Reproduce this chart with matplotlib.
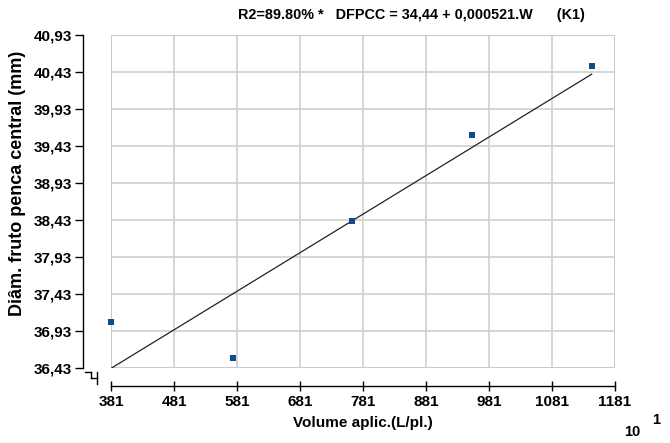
import matplotlib
matplotlib.use("Agg")
import matplotlib.pyplot as plt
import numpy as np
from matplotlib.lines import Line2D

# Data
volume = [381, 574, 764, 954, 1144]
diam = [37.05, 36.57, 38.42, 39.58, 40.51]
intercept = 34.44
slope = 0.00521
x_ticks = [381, 481, 581, 681, 781, 881, 981, 1081, 1181]
y_ticks = [36.43, 36.93, 37.43, 37.93, 38.43, 38.93, 39.43, 39.93, 40.43, 40.93]
title = "R2=89.80% *   DFPCC = 34,44 + 0,000521.W      (K1)"
xlabel = "Volume aplic.(L/pl.)"
ylabel = "Diâm. fruto penca central (mm)"

plt.rcParams['font.family'] = ['Liberation Sans', 'DejaVu Sans']

W, H = 670, 443
fig = plt.figure(figsize=(W / 100, H / 100), dpi=100)
left, right, top, bottom = 111, 615, 35, 368
ax = fig.add_axes([left / W, 1 - bottom / H, (right - left) / W, (bottom - top) / H])

ax.set_xlim(381, 1181)
ax.set_ylim(36.43, 40.93)

ax.grid(True, color='#d0d0d0', linewidth=1.2)
ax.set_axisbelow(True)

# regression line
xl = np.array([min(volume), max(volume)])
ax.plot(xl, intercept + slope * xl, color='#222222', linewidth=0.9, zorder=3)
ax.scatter(volume, diam, marker='s', s=24, color='#0f4c8c', zorder=4, linewidths=0, clip_on=False)

# Spines
for s in ['top', 'right']:
    ax.spines[s].set_visible(False)
ax.spines['left'].set_position(('outward', 20))
ax.spines['bottom'].set_position(('outward', 13))
ax.spines['left'].set_linewidth(1.0)
ax.spines['bottom'].set_linewidth(1.0)

# plot-area border
rect = plt.Rectangle((0, 0), 1, 1, transform=ax.transAxes, fill=False,
                     edgecolor='#c8c8c8', linewidth=1.2, zorder=2)
ax.add_patch(rect)

ax.set_xticks(x_ticks)
ax.set_xticklabels([str(v) for v in x_ticks], fontweight='bold', fontsize=11)
ax.set_yticks(y_ticks)
ax.set_yticklabels([f"{v:.2f}".replace('.', ',') for v in y_ticks], fontweight='bold', fontsize=11)
ax.tick_params(axis='y', direction='out', length=6, width=1, pad=2)
ax.tick_params(axis='x', direction='inout', length=7, width=1, pad=3)

ax.set_xlabel(xlabel, fontweight='bold', fontsize=11, labelpad=5)
fig.text(18 / W, 1 - 183 / H, ylabel, rotation=90, ha='center', va='center',
         fontweight='bold', fontsize=13)

fig.text(411 / W, 1 - 15 / H, title, ha='center', va='center', fontweight='bold', fontsize=10.4)

# axis break symbol near origin
def px(x, y):
    return (x / W, 1 - y / H)
segs = [((85, 372), (91, 372)), ((91, 372), (91, 378)), ((91, 378), (97, 378)), ((97, 372), (97, 384))]
for a, b in segs:
    (x0, y0), (x1, y1) = px(*a), px(*b)
    fig.add_artist(Line2D([x0, x1], [y0, y1], color='black', linewidth=1.0, transform=fig.transFigure))

fig.text(632 / W, 1 - 432 / H, "10", ha='center', va='center', fontweight='bold', fontsize=10.5)
fig.text(656 / W, 1 - 420 / H, "1", ha='center', va='center', fontweight='bold', fontsize=10.5)

fig.savefig("out.png", dpi=100)
